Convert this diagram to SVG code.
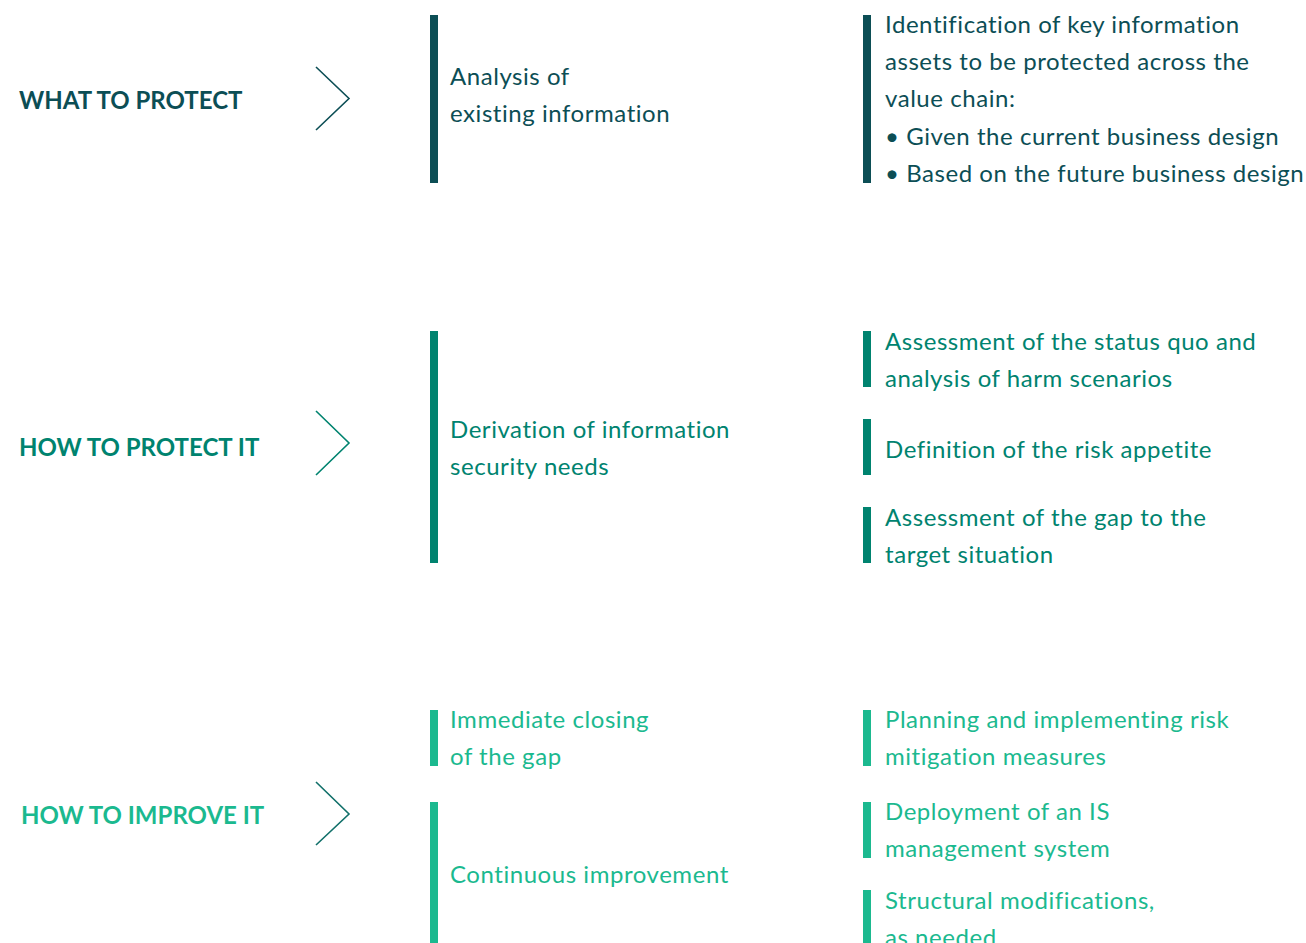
<svg xmlns="http://www.w3.org/2000/svg" width="1306" height="943" viewBox="0 0 1306 943">
<style>
.h{font-family:Lato,"Liberation Sans",sans-serif;font-weight:700;font-size:24px}
.t{font-family:Lato,"Liberation Sans",sans-serif;font-size:24px;letter-spacing:0.55px}
.d{fill:#0c4e55}.m{fill:#00836f}.l{fill:#1bb98f}
.chev{fill:none;stroke-width:1.6}
</style>
<rect width="1306" height="943" fill="#fff"/>
<g id="connectors">
<polyline class="chev" stroke="#0c4e55" points="316,67 349,98.5 316,130"/>
<polyline class="chev" stroke="#00836f" points="316,411 349,443 316,475"/>
<polyline class="chev" stroke="#11706a" points="316,782 349,814 316,845"/>
</g>
<g id="row1-label"><text class="h d" x="19" y="109">WHAT TO PROTECT</text></g>
<g id="row1-mid">
<rect class="d" x="430" y="15" width="8" height="168"/>
<text class="t d" x="450" y="85">Analysis of</text>
<text class="t d" x="450" y="122">existing information</text>
</g>
<g id="row1-right">
<rect class="d" x="863" y="15" width="8" height="168"/>
<text class="t d" x="885" y="33">Identification of key information</text>
<text class="t d" x="885" y="70">assets to be protected across the</text>
<text class="t d" x="885" y="107">value chain:</text>
<text class="t d" x="885" y="145">• Given the current business design</text>
<text class="t d" x="885" y="182">• Based on the future business design</text>
</g>
<g id="row2-label"><text class="h m" x="19" y="456">HOW TO PROTECT IT</text></g>
<g id="row2-mid">
<rect class="m" x="430" y="331" width="8" height="232"/>
<text class="t m" x="450" y="438">Derivation of information</text>
<text class="t m" x="450" y="475">security needs</text>
</g>
<g id="row2-right1">
<rect class="m" x="863" y="331" width="8" height="56"/>
<text class="t m" x="885" y="350">Assessment of the status quo and</text>
<text class="t m" x="885" y="387">analysis of harm scenarios</text>
</g>
<g id="row2-right2">
<rect class="m" x="863" y="419" width="8" height="56"/>
<text class="t m" x="885" y="458">Definition of the risk appetite</text>
</g>
<g id="row2-right3">
<rect class="m" x="863" y="507" width="8" height="56"/>
<text class="t m" x="885" y="526">Assessment of the gap to the</text>
<text class="t m" x="885" y="563">target situation</text>
</g>
<g id="row3-label"><text class="h l" x="21" y="824">HOW TO IMPROVE IT</text></g>
<g id="row3-mid1">
<rect class="l" x="430" y="710" width="8" height="56"/>
<text class="t l" x="450" y="728">Immediate closing</text>
<text class="t l" x="450" y="765">of the gap</text>
</g>
<g id="row3-mid2">
<rect class="l" x="430" y="802" width="8" height="150"/>
<text class="t l" x="450" y="883">Continuous improvement</text>
</g>
<g id="row3-right1">
<rect class="l" x="863" y="710" width="8" height="56"/>
<text class="t l" x="885" y="728">Planning and implementing risk</text>
<text class="t l" x="885" y="765">mitigation measures</text>
</g>
<g id="row3-right2">
<rect class="l" x="863" y="802" width="8" height="56"/>
<text class="t l" x="885" y="820">Deployment of an IS</text>
<text class="t l" x="885" y="857">management system</text>
</g>
<g id="row3-right3">
<rect class="l" x="863" y="890" width="8" height="60"/>
<text class="t l" x="885" y="909">Structural modifications,</text>
<text class="t l" x="885" y="946">as needed</text>
</g>
</svg>
